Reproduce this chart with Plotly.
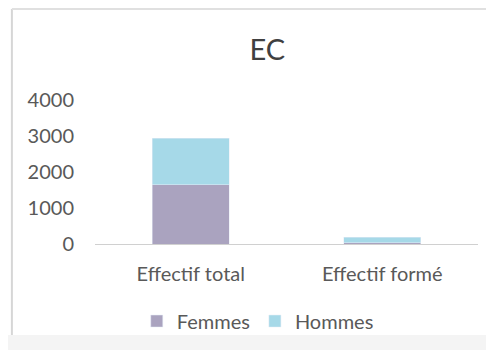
import plotly.graph_objects as go

# data
categories = ["Effectif total", "Effectif formé"]
femmes = [1640, 40]
hommes = [1300, 150]
y_ticks = [0, 1000, 2000, 3000, 4000]

fig = go.Figure()
fig.add_trace(go.Bar(x=categories, y=femmes, name="Femmes", marker_color="#aaa3bf"))
fig.add_trace(go.Bar(x=categories, y=hommes, name="Hommes", marker_color="#a6d9e8"))

# page body has an 8px margin, so everything is shifted up/left by 8px
fig.update_layout(
    barmode="stack",
    bargap=0.6,
    width=494, height=350,
    margin=dict(l=87, r=24, t=92, b=114, autoexpand=False),
    paper_bgcolor="white", plot_bgcolor="white",
    font=dict(family="Lato", color="#595959", size=18),
    title=dict(text="EC", x=0.525, xanchor="center", y=0.88, yanchor="middle",
               font=dict(size=29, color="#404040", family="Lato")),
    legend=dict(orientation="h", x=0.425, xanchor="center", y=-0.535, yanchor="middle",
                font=dict(size=20, color="#595959"), bgcolor="rgba(0,0,0,0)",
                itemwidth=30, traceorder="normal"),
    showlegend=True,
)
fig.update_xaxes(showline=True, linecolor="#d0d0d0", linewidth=1, ticks="", automargin=False,
                 tickfont=dict(size=20), ticklabelstandoff=12)
fig.update_yaxes(range=[0, 4000], tickvals=y_ticks, showgrid=False, zeroline=False, automargin=False,
                 showline=False, ticks="", tickfont=dict(size=20), ticklabelstandoff=20)

# chart border like the office frame
fig.add_shape(type="line", xref="paper", yref="paper", x0=-0.217, x1=-0.217, y0=-0.632, y1=1.632,
              line=dict(color="#d6d6d6", width=2))
fig.add_shape(type="line", xref="paper", yref="paper", x0=-0.217, x1=1.1, y0=1.632, y1=1.632,
              line=dict(color="#e0e0e0", width=2))
fig.add_shape(type="rect", xref="paper", yref="paper", x0=-0.3, x1=1.1, y0=-0.632, y1=-0.75,
              fillcolor="#f4f4f4", line=dict(width=0), layer="below")

fig.write_html("out.html")
